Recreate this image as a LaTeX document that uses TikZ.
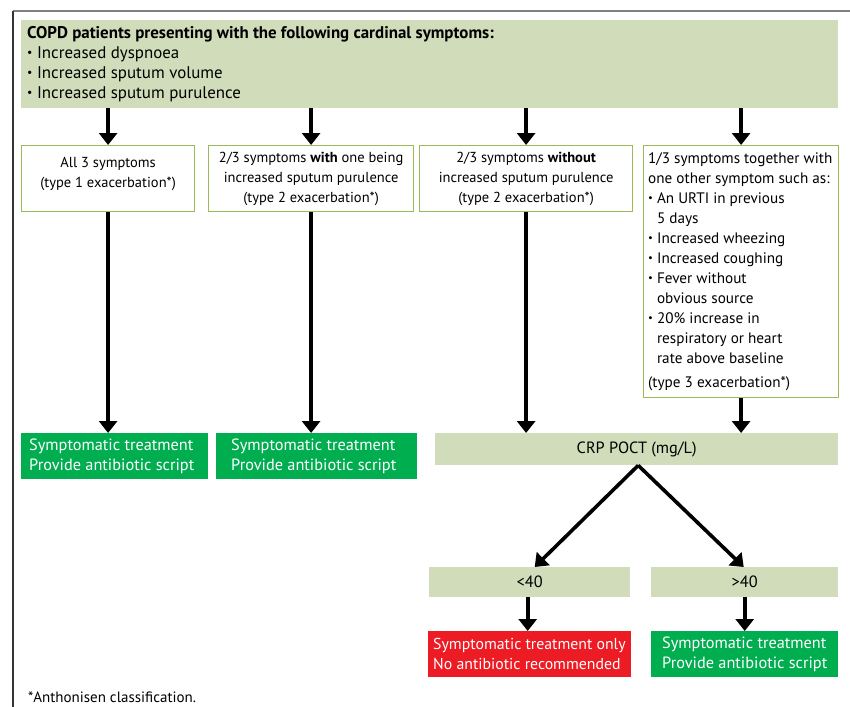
\documentclass[tikz,border=0pt]{standalone}
\usepackage{fontspec}
\setmainfont{PT Sans}
\usetikzlibrary{arrows.meta}

\definecolor{paleg}{RGB}{208,220,186}
\definecolor{boxg}{RGB}{155,187,89}
\definecolor{okg}{RGB}{0,174,80}
\definecolor{nored}{RGB}{237,28,36}
\newcommand{\bul}{\raisebox{0.2ex}{\scalebox{0.7}{\textbullet}}}

\tikzset{
  txt/.style={font=\fontsize{14.5}{20}\selectfont, inner sep=0pt},
  bigtxt/.style={font=\fontsize{16.3}{20}\selectfont, inner sep=0pt},
  flowarrow/.style={line width=3.6pt, -{Triangle[width=18pt,length=12pt]}},
  palebox/.style={fill=paleg, draw=none, anchor=north west, inner sep=0pt},
  outlinebox/.style={draw=boxg, line width=1.2pt, fill=white, anchor=north west, inner sep=0pt},
  goodbox/.style={fill=okg, draw=none, anchor=north west, inner sep=0pt},
  badbox/.style={fill=nored, draw=none, anchor=north west, inner sep=0pt},
}

\begin{document}
\begin{tikzpicture}[x=1pt,y=-1pt]
\useasboundingbox (0,0) rectangle (850,706);
% frame
\coordinate (fTL) at (13,11);
\coordinate (fTR) at (852,11);
\coordinate (fBL) at (13,710);
\draw[line width=2pt, gray] (fTL) -- (fTR);
\draw[line width=1.4pt, black!80] (fTL) -- (fBL);

% top box
\node[palebox, minimum width=817pt, minimum height=88pt] (top) at (21,20) {};
\node[bigtxt, font=\fontsize{16.9}{20}\selectfont, anchor=north west, align=left] (toptext) at (27,26)
 {\textbf{COPD patients presenting with the following cardinal symptoms:}\\
  \bul\ Increased dyspnoea\\
  \bul\ Increased sputum volume\\
  \bul\ Increased sputum purulence};

% second row boxes
\node[outlinebox, minimum width=173pt, minimum height=66pt] (b1) at (21,145) {};
\node[outlinebox, minimum width=205pt, minimum height=66pt] (b2) at (208,145) {};
\node[outlinebox, minimum width=213pt, minimum height=66pt] (b3) at (419,145) {};
\node[outlinebox, minimum width=195pt, minimum height=252pt] (b4) at (643,145) {};

\node[txt, anchor=north, align=center] (t1) at ([yshift=-12pt]b1.north)
 {All 3 symptoms\\(type 1 exacerbation*)};
\node[txt, anchor=north, align=center] (t2) at ([yshift=-7pt]b2.north)
 {2/3 symptoms \textbf{with} one being\\increased sputum purulence\\(type 2 exacerbation*)};
\node[txt, anchor=north, align=center] (t3) at ([yshift=-7pt]b3.north)
 {2/3 symptoms \textbf{without}\\increased sputum purulence\\(type 2 exacerbation*)};
\node[txt, font=\fontsize{15.2}{20}\selectfont, anchor=north west, align=left] (t4) at ([xshift=5pt,yshift=-7pt]b4.north west)
 {1/3 symptoms together with\\
  one other symptom such as:\\
  \bul\ An URTI in previous\\
  \phantom{\bul\ }5 days\\
  \bul\ Increased wheezing\\
  \bul\ Increased coughing\\
  \bul\ Fever without\\
  \phantom{\bul\ }obvious source\\
  \bul\ 20\% increase in\\
  \phantom{\bul\ }respiratory or heart\\
  \phantom{\bul\ }rate above baseline\\[4pt]
  (type 3 exacerbation*)};

% result row
\node[goodbox, minimum width=187pt, minimum height=46pt] (g1) at (21,433) {};
\node[goodbox, minimum width=201pt, minimum height=46pt] (g2) at (216,433) {};
\node[palebox, minimum width=403pt, minimum height=32pt] (crp) at (435,433) {};
\node[bigtxt, text=white, anchor=west, align=left] (tg1) at ([xshift=8pt]g1.west)
 {Symptomatic treatment\\Provide antibiotic script};
\node[bigtxt, text=white, anchor=west, align=left] (tg2) at ([xshift=15pt]g2.west)
 {Symptomatic treatment\\Provide antibiotic script};
\node[bigtxt] (tcrp) at (crp.center) {CRP POCT (mg/L)};

% CRP branches
\node[palebox, minimum width=201pt, minimum height=30pt] (lt) at (429,567) {};
\node[palebox, minimum width=187pt, minimum height=30pt] (gt) at (651,567) {};
\node[bigtxt] (tlt) at (lt.center) {<40};
\node[bigtxt] (tgt) at (gt.center) {>40};

\node[badbox, minimum width=203pt, minimum height=46pt] (red) at (428,631) {};
\node[goodbox, minimum width=187pt, minimum height=46pt] (g3) at (651,631) {};
\node[bigtxt, font=\fontsize{15.8}{20}\selectfont, text=white, anchor=west, align=left] (tred) at ([xshift=5pt]red.west)
 {Symptomatic treatment only\\No antibiotic recommended};
\node[bigtxt, text=white, anchor=west, align=left] (tg3) at ([xshift=11pt]g3.west)
 {Symptomatic treatment\\Provide antibiotic script};

% footnote
\node[txt, font=\fontsize{15}{18}\selectfont, anchor=base west] (foot) at (28,702) {*Anthonisen classification.};

% arrows
\draw[flowarrow] (top.south -| b1.north) -- (b1.north);
\draw[flowarrow] (top.south -| b2.north) -- (b2.north);
\draw[flowarrow] (top.south -| b3.north) -- (b3.north);
\draw[flowarrow] (top.south -| b4.north) -- (b4.north);

\draw[flowarrow] (b1.south) -- (b1.south |- g1.north);
\draw[flowarrow] (b2.south) -- (b2.south |- g2.north);
\draw[flowarrow] (b3.south) -- (b3.south |- crp.north);
\draw[flowarrow] (b4.south) -- (b4.south |- crp.north);

\draw[flowarrow, line join=miter] ([xshift=1.5pt]crp.south) -- ([xshift=5pt]lt.north);
\draw[flowarrow, line join=miter] ([xshift=1.5pt]crp.south) -- ([xshift=-1pt]gt.north);

\draw[flowarrow] ([xshift=-2pt]lt.south) -- ([xshift=-2pt]lt.south |- red.north);
\draw[flowarrow] (gt.south) -- (gt.south |- g3.north);
\end{tikzpicture}
\end{document}
